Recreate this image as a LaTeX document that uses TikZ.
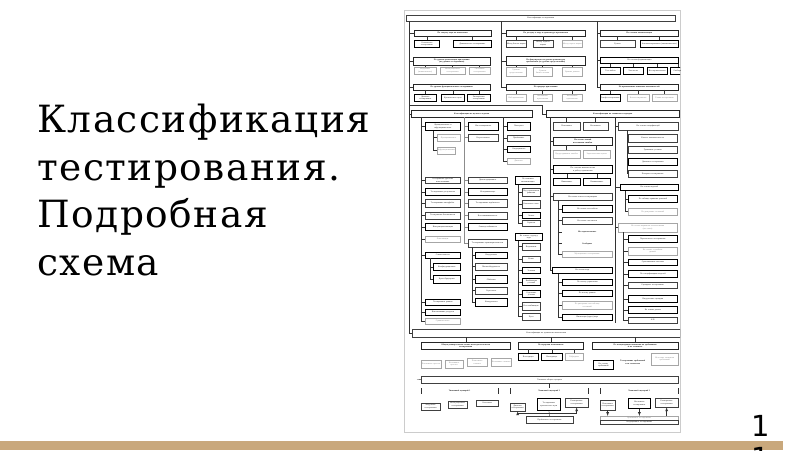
\documentclass[tikz,border=0pt]{standalone}
\usepackage{fontspec}
\setmainfont{DejaVu Serif}
\newfontfamily\titlefont[LetterSpace=4]{DejaVu Serif}
\newfontfamily\numfont{DejaVu Sans}
\newfontfamily\dfont{Liberation Serif}
\newcommand\dsize{\dfont\fontsize{2.1}{2.4}\selectfont}
\definecolor{band}{RGB}{201,168,124}
% one box of the scheme: [style] name, top-left, width, height, text
\newcommand\kbox[6][bx]{\pgfmathsetmacro\kw{#4-1.2}%
  \node[#1,text width=\kw pt,minimum width=#4pt,minimum height=#5pt] (#2) at (#3) {#6};}
\begin{document}
\begin{tikzpicture}[x=1pt,y=-1pt,>=latex,
  bx/.style={draw=black!75,line width=0.3pt,inner xsep=0.6pt,inner ysep=0.2pt,
    anchor=north west,align=center,font=\dsize,text=black!85},
  bold/.style={bx,draw=black,line width=0.75pt},
  grey/.style={bx,draw=black!35,text=black!45},
  sec/.style={bx,draw=black!85,line width=0.45pt,font=\dsize\bfseries},
  plain/.style={bx,draw=none,font=\dsize\bfseries},
  lnk/.style={line width=0.35pt,black!80},
  title/.style={anchor=base west,inner sep=0pt,font=\titlefont\fontsize{37.5}{48}\selectfont}]
\useasboundingbox (0,0) rectangle (800,450);
\fill[white] (0,0) rectangle (800,450);
% band at the bottom and slide number
\fill[band] (0,441) rectangle (783,450);
\node[anchor=base west,inner sep=0pt,font=\numfont\fontsize{29}{32}\selectfont] (num1) at (751,436) {1};
\node[anchor=base west,inner sep=0pt,font=\numfont\fontsize{29}{32}\selectfont] (num2) at (751,468) {1};
% title
\node[title] (t1) at (37,132) {Классификация};
\node[title] (t2) at (37,180) {тестирования.};
\node[title] (t3) at (37,227) {Подробная};
\node[title] (t4) at (37,275) {схема};
% the scheme
\draw[black!20,line width=0.3pt] (404,10) rectangle (680,432);
\begin{scope}
\clip (404,10) rectangle (680,432);
\kbox{top}{406,15}{269}{6}{Классификация тестирования}
\coordinate (tr0) at ([xshift=3pt]top.south west);
\coordinate (tr2) at ([xshift=95pt]top.south west);
\coordinate (tr3) at ([xshift=191pt]top.south west);
% column 1
\kbox[sec]{s11}{414,29.5}{77}{6}{По запуску кода на исполнение}
\kbox[bold]{s11a}{414,40}{25}{7}{Статическое тестирование}
\kbox[bold]{s11b}{453,40}{38}{7}{Динамическое тестирование}
\kbox[sec]{s12}{413,57}{77}{8}{По уровню детализации приложения\\(по уровню тестирования)}
\kbox[grey]{s12a}{414,67}{22}{7}{Модульное (компонентное)}
\kbox[grey]{s12b}{440,67}{25}{7}{Интеграционное тестирование}
\kbox[grey]{s12c}{469,67}{21}{7}{Системное тестирование}
\kbox[sec]{s13}{413,84}{77}{5.5}{По уровню функционального тестирования}
\kbox[bold]{s13a}{414,94}{22}{7}{Дымовое тестирование}
\kbox[bold]{s13b}{441,94}{23}{7}{Критического пути}
\kbox[bold]{s13c}{467,94}{23}{7}{Расширенное тестирование}
% column 2
\kbox[sec]{s21}{506,30}{79}{6}{По доступу к коду и архитектуре приложения}
\kbox{s21a}{506,40}{20}{7}{Метод белого ящика}
\kbox{s21b}{533,40}{20}{7}{Метод чёрного ящика}
\kbox[grey]{s21c}{562,40}{20}{7}{Метод серого ящика}
\kbox[sec]{s22}{506,56}{79}{9}{По фокусировке на уровне архитектуры\\приложения (по уровню представления)}
\kbox[grey]{s22a}{506,67}{20}{9}{Уровень представления}
\kbox[grey]{s22b}{533,67}{19}{9}{Уровень бизнес-логики}
\kbox[grey]{s22c}{562,67}{20}{9}{Уровень данных}
\kbox[sec]{s23}{506,84}{79}{5.5}{По природе приложения}
\kbox[grey]{s23a}{506,94}{20}{7}{Веб-приложения}
\kbox[grey]{s23b}{533,94}{19}{7}{Мобильные приложения}
\kbox[grey]{s23c}{562,94}{20}{7}{Настольные приложения}
% column 3
\kbox[sec]{s31}{600,30}{78}{6}{По степени автоматизации}
\kbox{s31a}{600,40}{35}{7}{Ручное}
\kbox[bold]{s31b}{640,40}{38}{7}{Автоматизированное (автоматическое)}
\kbox[bold]{s32}{600,57}{78}{6}{По степени формализации}
\kbox[bold]{s32a}{600,67}{20}{7}{Тест-кейсы}
\kbox[bold]{s32b}{623,67}{20}{7}{Чек-листы}
\kbox[bold]{s32c}{647,67}{20}{7}{Исследовательское}
\kbox[bold]{s32d}{670,67}{16}{7}{Свободное}
\kbox[sec]{s33}{600,84}{78}{5.5}{По привлечению конечных пользователей}
\kbox[bold]{s33a}{600,94}{20}{7}{Альфа-тестирование}
\kbox[grey]{s33b}{627,94}{22}{7}{Бета-тестирование}
\kbox[grey]{s33c}{652,94}{25}{7}{Гамма-тестирование}
% connectors, top part
\draw[lnk] (top.south -| tr2) -- (tr2 |- s23.west) -- (s23.west);
\draw[lnk] (tr2) |- (s21.west);
\draw[lnk] (tr2) |- (s22.west);
\draw[lnk] (tr3) |- (s33.west);
\draw[lnk] (tr3) |- (s31.west);
\draw[lnk] (tr3) |- (s32.west);
\foreach \p/\c in {s11/s11a,s11/s11b,s12/s12a,s12/s12b,s12/s12c,s13/s13a,s13/s13b,s13/s13c,
  s21/s21a,s21/s21b,s21/s21c,s22/s22a,s22/s22b,s22/s22c,s23/s23a,s23/s23b,s23/s23c,
  s31/s31a,s31/s31b,s32/s32a,s32/s32b,s32/s32c,s32/s32d,s33/s33a,s33/s33b,s33/s33c}
  \draw[lnk] (\p.south -| \c.north) -- (\c.north);
% left panel
\kbox[sec]{lp}{411,110}{121}{7}{Классификация по целям и задачам}
\coordinate (ta) at ([xshift=10pt]lp.south west);
\coordinate (tb) at ([xshift=53pt]lp.south west);
\coordinate (tc) at ([xshift=92pt]lp.south west);
\kbox[bold]{a1}{425,122}{35}{8}{Функциональное и\\нефункциональное}
\kbox[grey]{a1a}{437,134}{23}{7}{Функциональное}
\kbox[grey]{a1b}{437,147}{18}{6.5}{Нефункциональное}
\kbox{a2}{425,177}{35}{6}{Тестирование удобства использования}
\kbox[bold]{a3}{425,188}{35}{7}{Тестирование доступности}
\kbox{a4}{425,199}{35}{7.5}{Тестирование интерфейса}
\kbox{a5}{425,212}{35}{6.5}{Тестирование безопасности}
\kbox[bold]{a6}{425,223}{35}{7}{Интернационализация}
\kbox[grey]{a7}{425,236}{35}{6}{Локализация}
\kbox[bold]{a8}{425,252}{35}{5.5}{Совместимость}
\kbox[bold]{a8a}{433,263}{27}{7}{Конфигурационное}
\kbox[bold]{a8b}{433,275}{27}{8}{Кросс-браузерное}
\kbox[bold]{a9}{425,299}{35}{6}{Тестирование данных}
\kbox[bold]{a10}{425,309}{35}{6}{Использование ресурсов}
\kbox[grey]{a11}{425,318}{35}{6}{Сравнительное}
\kbox[bold]{b1}{468,122}{30}{8}{Инсталляционное}
\kbox{b2}{468,134}{30}{7}{Регрессионное}
\kbox{b3}{468,177}{39}{6}{Демонстрационное}
\kbox[bold]{b4}{468,188}{39}{7}{Исчерпывающее}
\kbox{b5}{468,199}{39}{7.5}{Тестирование надёжности}
\kbox{b6}{468,212}{39}{6.5}{Восстанавливаемость}
\kbox[bold]{b7}{468,223}{39}{7}{Отказоустойчивость}
\kbox{b8}{468,239}{39}{8}{Тестирование производительности}
\kbox[bold]{b8a}{475,252}{32}{6}{Нагрузочное}
\kbox{b8b}{475,263}{32}{7}{Масштабируемость}
\kbox[bold]{b8c}{475,275}{32}{8}{Объёмное}
\kbox{b8d}{475,287}{32}{7}{Стрессовое}
\kbox[bold]{b8e}{475,298}{32}{8}{Конкурентное}
\kbox[bold]{c1}{507,122}{23}{8}{Повторное}
\kbox{c2}{507,135}{23}{6}{Приёмочное}
\kbox[bold]{c3}{507,146}{23}{6}{Операционное}
\kbox[grey]{c4}{507,158}{23}{6}{Дымовое}
\kbox[bold]{c5}{515,176}{25}{8}{По техникам\\автоматизации}
\kbox{c5a}{522,188}{18}{8}{Под управлением данными}
\kbox{c5b}{522,200}{18}{8}{Ключевые слова}
\kbox[bold]{c5c}{522,212}{18}{6}{Запись}
\kbox{c5d}{522,220}{18}{5.5}{Скрипты}
\kbox[bold]{c6}{515,233}{27}{7}{На основе структур\\кода}
\kbox{c6a}{522,243}{18}{7}{Выражения}
\kbox{c6b}{522,256}{18}{6}{Ветви}
\kbox[bold]{c6c}{522,267}{18}{6}{Условия}
\kbox[bold]{c6d}{522,278}{18}{7}{Комбинации условий}
\kbox[bold]{c6e}{522,290}{18}{7}{Отдельные условия}
\kbox{c6f}{522,302}{18}{8}{Все комбинации}
\kbox{c6g}{522,313}{18}{7}{Пути}
\foreach \c in {a1,a2,a3,a4,a5,a6,a7,a8,a9,a10,a11} \draw[lnk] (ta) |- (\c.west);
\foreach \c in {b1,b2,b3,b4,b5,b6,b7,b8} \draw[lnk,black!45] (tb) |- (\c.west);
\foreach \c in {c1,c2,c3,c4} \draw[lnk] (tc) |- (\c.west);
\coordinate (a1t) at ([xshift=8pt]a1.south west);
\coordinate (a8t) at ([xshift=5pt]a8.south west);
\coordinate (b8t) at ([xshift=4pt]b8.south west);
\coordinate (c5t) at ([xshift=3pt]c5.south west);
\coordinate (c6t) at ([xshift=3pt]c6.south west);
\foreach \c in {a1a,a1b} \draw[lnk] (a1t) |- (\c.west);
\foreach \c in {a8a,a8b} \draw[lnk] (a8t) |- (\c.west);
\foreach \c in {b8a,b8b,b8c,b8d,b8e} \draw[lnk] (b8t) |- (\c.west);
\foreach \c in {c5a,c5b,c5c,c5d} \draw[lnk] (c5t) |- (\c.west);
\foreach \c in {c6a,c6b,c6c,c6d,c6e,c6f,c6g} \draw[lnk] (c6t) |- (\c.west);
% right panel
\kbox[sec]{rp}{546,110}{133}{7}{Классификация по техникам и подходам}
\coordinate (td) at ([xshift=4pt]rp.south west);
\coordinate (te) at ([xshift=69pt]rp.south west);
\kbox{d1}{553,122}{27}{8}{Позитивное}
\kbox{d2}{583,122}{25}{8}{Негативное}
\kbox[sec]{d3}{553,137}{59}{8}{На основе знаний\\источников ошибок}
\kbox[grey]{d4}{553,150}{27}{8}{Предугадывание ошибок}
\kbox[grey]{d5}{583,150}{27}{8}{Эвристическая оценка}
\kbox[bold]{d6}{553,165}{59}{8}{По степени вмешательства\\в работу приложения}
\kbox[bold]{d7}{553,178}{27}{7}{Инвазивное}
\kbox[bold]{d8}{583,178}{27}{7}{Неинвазивное}
\kbox{d9}{553,193}{59}{7}{На основе опыта тестировщика}
\kbox[bold]{d10}{562,205}{50}{7}{На основе тест-кейсов}
\kbox{d11}{562,217}{50}{7}{На основе чек-листов}
\kbox[plain]{d12}{562,228}{50}{8}{Исследовательское}
\kbox[plain]{d13}{562,240}{50}{7}{Свободное}
\kbox[grey]{d14}{562,251}{50}{6}{Мутационное тестирование}
\kbox[bold]{d15}{552,267}{60}{6}{На основе кода}
\kbox[bold]{d16}{562,279}{50}{6}{По потоку управления}
\kbox[bold]{d17}{562,290}{50}{6}{По потоку данных}
\kbox[grey]{d18}{562,301}{50}{8}{По диаграмме или таблице\\состояний}
\kbox[bold]{d19}{562,314}{50}{6}{Инспекция (аудит) кода}
\kbox{e1}{618,122}{60}{8}{На основе спецификаций}
\kbox{e2}{628,134}{49}{8}{Классы эквивалентности}
\kbox{e3}{628,146}{49}{7}{Граничные условия}
\kbox[bold]{e4}{628,158}{49}{7}{Доменное тестирование}
\kbox{e5}{628,170}{49}{7}{Попарное тестирование}
\kbox[bold]{e6}{620,184}{58}{6}{На основе моделей}
\kbox[bold]{e7}{628,195}{49}{7}{По таблице принятия решений}
\kbox[grey]{e8}{628,208}{49}{7}{По диаграмме состояний}
\kbox[grey]{e9}{618,223}{59}{9}{На основе вариантов использования\\(use cases)}
\kbox[bold]{e10}{628,235}{49}{7}{Параллельное тестирование}
\kbox[grey]{e11}{628,247}{49}{8}{На основе случайных\\данных}
\kbox[bold]{e12}{628,259}{49}{6}{Ортогональные массивы}
\kbox[bold]{e13}{628,270}{49}{7}{По спецификациям моделей}
\kbox{e14}{628,282}{49}{6}{Сценарное тестирование}
\kbox[bold]{e15}{628,295}{49}{7}{Нагрузочные сценарии}
\kbox[bold]{e16}{628,306}{49}{7}{На основе рисков}
\kbox{e17}{628,317}{49}{6}{A/B}
\draw[lnk] (tr0 |- 0,105) -| ([xshift=-4pt]rp.west) -- (rp.west);
\foreach \c in {d1,d2} \draw[lnk] (rp.south -| \c.north) -- (\c.north);
\foreach \c in {d3,d6,d9,d15} \draw[lnk] (td) |- (\c.west);
\foreach \p/\c in {d3/d4,d3/d5,d6/d7,d6/d8} \draw[lnk] (\p.south -| \c.north) -- (\c.north);
\coordinate (d9t) at ([xshift=5pt]d9.south west);
\coordinate (d15t) at ([xshift=6pt]d15.south west);
\foreach \c in {d10,d11,d12,d13,d14} \draw[lnk] (d9t) |- (\c.west);
\foreach \c in {d16,d17,d18,d19} \draw[lnk] (d15t) |- (\c.west);
\foreach \c in {e1,e6,e9} \draw[lnk] (te) |- (\c.west);
\draw[lnk] (te) -- (te |- e17.south);
\coordinate (e1t) at ([xshift=9pt]e1.south west);
\coordinate (e6t) at ([xshift=5pt]e6.south west);
\coordinate (e9t) at ([xshift=5pt]e9.south west);
\foreach \c in {e2,e3,e4,e5} \draw[lnk] (e1t) |- (\c.west);
\foreach \c in {e7,e8} \draw[lnk] (e6t) |- (\c.west);
\foreach \c in {e10,e11,e12,e13,e14,e15,e16,e17} \draw[lnk] (e9t) |- (\c.west);
% chronology
\kbox{m}{412,329}{268}{8}{Классификация по хронологии выполнения}
\kbox[sec]{f1}{421,342}{89}{7}{Общая универсальная логика последовательности\\тестирования}
\kbox[sec]{f2}{518,342}{65}{6.5}{По иерархии компонентов}
\kbox[sec]{f3}{592,342}{86}{7}{По концентрации внимания на требованиях\\и их элементах}
\kbox[grey]{f1a}{421,360}{20}{8}{Позитивное простое}
\kbox[grey]{f1b}{445,360}{18}{8}{Негативное простое}
\kbox[grey]{f1c}{467,358}{20}{8}{Позитивное сложное}
\kbox[grey]{f1d}{491,358}{20}{8}{Негативное сложное}
\kbox[bold]{f2a}{518,353}{20}{7}{Восходящее}
\kbox[bold]{f2b}{541,353}{21}{7}{Нисходящее}
\kbox[grey]{f2c}{565,353}{18}{7}{Гибридное}
\kbox[bold]{f3a}{593,360}{20}{9}{На основе требований}
\kbox[plain]{f3b}{618,355}{29}{14}{Тестирование требований и их элементов}
\kbox[grey]{f3c}{651,353}{27}{12}{На основе элементов требований}
\foreach \c in {m,s11,s12,s13,lp} \draw[lnk] (tr0) |- (\c.west);
\foreach \c in {f1,f2,f3} \draw[lnk] (m.south -| \c.north) -- (\c.north);
\foreach \c in {f2a,f2b,f2c} \draw[lnk] (f2.south -| \c.north) -- (\c.north);
% typical sequences
\kbox{g}{421,376}{257}{7}{Типичные общие сценарии}
\coordinate (gj) at (417,379.5);
\draw[lnk] (gj) -- (g.west);
\kbox[plain]{g1}{421,388}{77}{6}{Типичный сценарий 1}
\kbox[plain]{g2}{510,388}{78}{6}{Типичный сценарий 2}
\kbox[plain]{g3}{600,388}{78}{6}{Типичный сценарий 3}
\foreach \c in {g1,g2,g3} {
  \draw[lnk,line width=0.5pt] (\c.north west) -- (\c.south west);
  \draw[lnk,line width=0.5pt] (\c.north east) -- (\c.south east);}
\draw[lnk] (g.south) -- (g.south |- g2.north);
\kbox{g1a}{421,403}{19}{6.5}{Модульное тестирование}
\kbox{g1b}{448,401}{19}{7}{Интеграционное тестирование}
\kbox{g1c}{476,400}{22}{6}{Системное}
\kbox{g2a}{510,403}{15}{8}{Дымовое тестирование}
\kbox[bold]{g2b}{537,398}{23}{12}{Тестирование критического пути}
\kbox{g2c}{565,398}{23}{9}{Расширенное тестирование}
\kbox{gb}{526,416}{47}{7}{Приёмочное тестирование}
\coordinate (g2j) at ([yshift=3pt]gb.north);
\draw[lnk] (g2b.south) -- (gb.north);
\draw[lnk,->] (g2j) -| (g2a.south);
\draw[lnk,->] (g2j) -| (g2c.south);
\kbox{g3a}{600,400}{15}{10}{Позитивное тестирование}
\kbox[bold]{g3b}{628,398}{22}{10}{Негативное тестирование}
\kbox{g3c}{655,398}{23}{9}{Расширенное тестирование}
\kbox[grey]{gb1}{600,416}{78}{4}{Приёмочное тестирование}
\kbox{gb2}{600,420}{78}{4}{Операционное тестирование}
\foreach \c in {g3a,g3b} \draw[lnk,->] (\c.south) -- (\c.south |- gb1.north);
\draw[lnk,->] (g3c.south |- gb1.north) -- (g3c.south);
\end{scope}
\end{tikzpicture}
\end{document}
